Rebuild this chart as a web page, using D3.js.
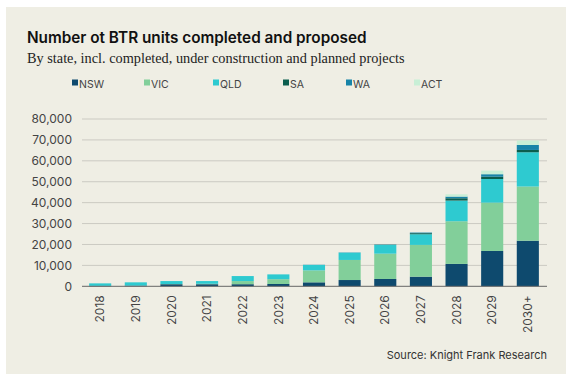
<!DOCTYPE html>
<html><head><meta charset="utf-8">
<script src="https://cdn.jsdelivr.net/npm/d3@7/dist/d3.min.js"></script>
<style>body{margin:0;background:#fff}</style>
</head><body>
<script>
const categories = ["2018","2019","2020","2021","2022","2023","2024","2025","2026","2027","2028","2029","2030+"];
const seriesNames = ["NSW","VIC","QLD","SA","WA","ACT"];
const NSW = [200,300,1000,1000,1000,1100,1900,3000,3500,4600,10700,16900,21800];
const VIC = [0,0,100,200,1500,2300,5700,9600,12100,15200,20400,23100,25900];
const QLD = [1200,1600,1400,1300,2400,2300,2600,3500,4200,5100,9900,11300,16400];
const SA  = [0,0,0,0,0,0,0,0,100,500,1100,1100,1100];
const WA  = [0,0,0,0,0,0,100,100,100,300,800,1200,2400];
const ACT = [0,0,0,0,0,0,0,0,0,0,1100,1700,2100];
const yTicks = [0,10000,20000,30000,40000,50000,60000,70000,80000];
const colors = ["#0e4a6e","#82cf9a","#2ecad0","#0b5e4e","#1784a8","#c8efd6"];

const W = 573, H = 381;
const svg = d3.select("body").append("svg").attr("width",W).attr("height",H);
svg.append("rect").attr("x",6).attr("y",7).attr("width",560).attr("height",367).attr("fill","#efeee4");

svg.append("text").attr("x",27).attr("y",43).text("Number ot BTR units completed and proposed")
  .attr("font-family","Inter, 'Liberation Sans', sans-serif").attr("font-weight",600).attr("font-size",15.3).attr("fill","#111");
svg.append("text").attr("x",27).attr("y",63).text("By state, incl. completed, under construction and planned projects")
  .attr("font-family","'Liberation Serif', serif").attr("font-size",14.3).attr("fill","#222");

const data = categories.map((c,i)=>({cat:c,NSW:NSW[i],VIC:VIC[i],QLD:QLD[i],SA:SA[i],WA:WA[i],ACT:ACT[i]}));
const stack = d3.stack().keys(seriesNames)(data);

const x = d3.scaleBand().domain(categories).range([82,546]).paddingInner(0.38).paddingOuter(0.2);
const y = d3.scaleLinear().domain([0,80000]).range([286.3,119]);

const g = svg.append("g");
g.selectAll("line.grid").data(yTicks.slice(1)).join("line")
  .attr("x1",82).attr("x2",547).attr("y1",d=>y(d)).attr("y2",d=>y(d))
  .attr("stroke","#cbcac2").attr("stroke-width",1);

const yAxis = d3.axisLeft(y).tickValues(yTicks).tickFormat(d3.format(",")).tickSize(0).tickPadding(10);
svg.append("g").attr("transform","translate(82,0)").call(yAxis)
  .call(s=>s.select(".domain").remove())
  .selectAll("text").attr("font-family","Inter, 'Liberation Sans', sans-serif").attr("font-size",12).attr("fill","#444");

svg.append("g").selectAll("g").data(stack).join("g").attr("fill",(d,i)=>colors[i])
  .selectAll("rect").data(d=>d).join("rect")
  .attr("x",d=>x(d.data.cat)).attr("width",x.bandwidth())
  .attr("y",d=>y(d[1])).attr("height",d=>Math.max(0,y(d[0])-y(d[1])));

svg.append("line").attr("x1",82).attr("x2",547).attr("y1",y(0)).attr("y2",y(0)).attr("stroke","#666").attr("stroke-width",1);

const xAxis = d3.axisBottom(x).tickSize(0).tickPadding(0);
svg.append("g").attr("transform",`translate(0,${y(0)})`).call(xAxis)
  .call(s=>s.select(".domain").remove())
  .selectAll("text").attr("font-family","Inter, 'Liberation Sans', sans-serif").attr("font-size",12).attr("fill","#444")
  .attr("transform","rotate(-90)").attr("text-anchor","end").attr("dy","0.35em").attr("x",-9).attr("y",0);

const legX = [72,144,213,283,346,414];
const leg = svg.append("g").selectAll("g").data(seriesNames).join("g")
  .attr("transform",(d,i)=>`translate(${legX[i]},84)`);
leg.append("rect").attr("x",0).attr("y",-4.5).attr("width",6).attr("height",6).attr("fill",(d,i)=>colors[i]);
leg.append("text").attr("x",7).attr("y",0).attr("dy","0.35em").text(d=>d)
  .attr("font-family","Inter, 'Liberation Sans', sans-serif").attr("font-size",10.5).attr("fill","#444");

svg.append("text").attr("x",547).attr("y",359).attr("text-anchor","end").text("Source: Knight Frank Research")
  .attr("font-family","Inter, 'Liberation Sans', sans-serif").attr("font-size",11).attr("fill","#333");
</script>
</body></html>
